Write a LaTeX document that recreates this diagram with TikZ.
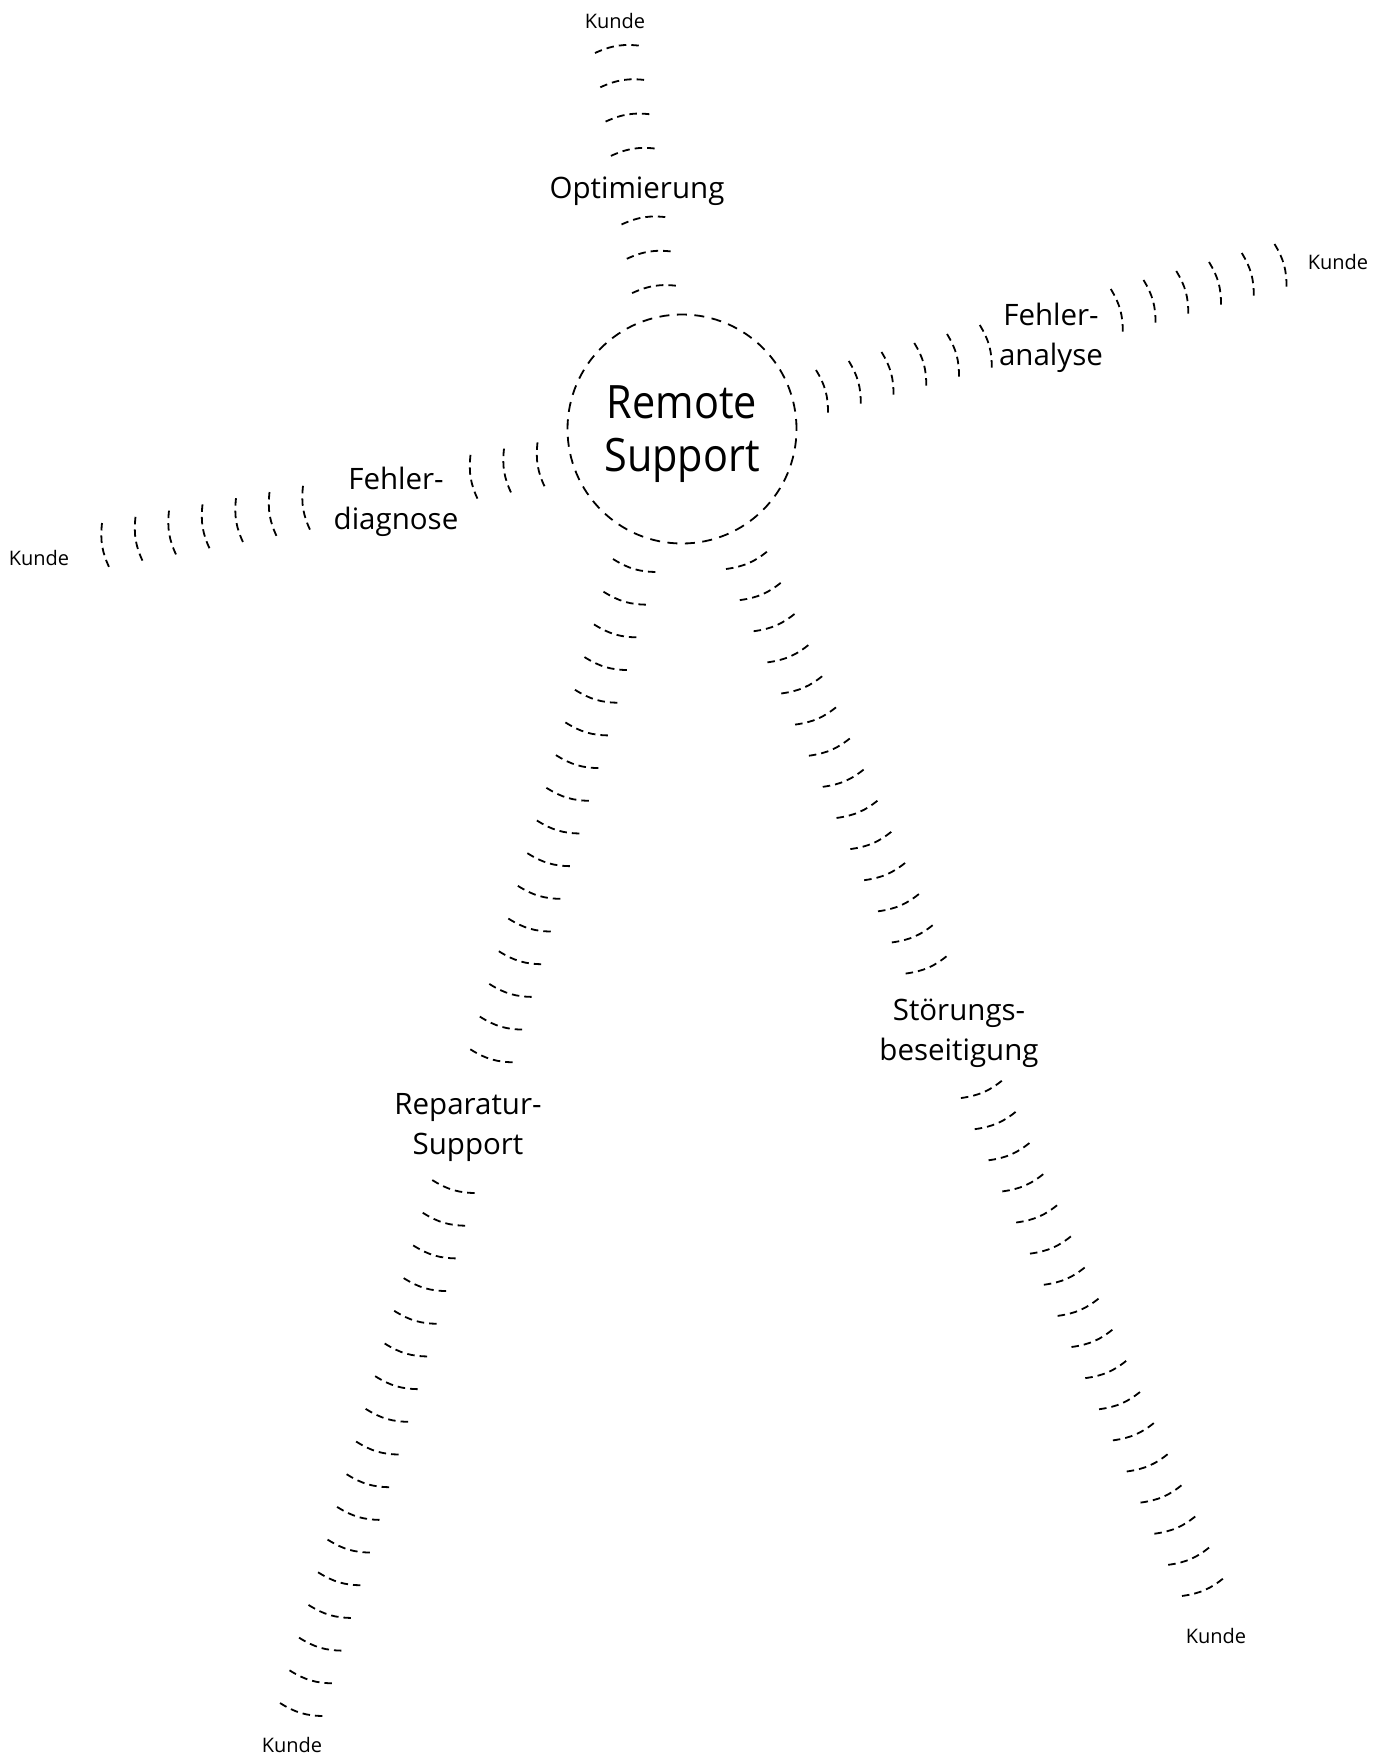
\documentclass[tikz,border=0pt]{standalone}
\usepackage{fontspec}
\setmainfont{Open Sans}
\begin{document}
\begin{tikzpicture}[x=1pt,y=-1pt]
\tikzset{
  wave/.style={line width=1.8pt, dash pattern=on 7.5pt off 5pt},
  ring/.style={draw, circle, line width=1.8pt, dash pattern=on 10pt off 7.5pt, minimum size=229pt, inner sep=0pt},
  kunde/.style={font=\fontsize{20}{24}\selectfont, inner sep=0pt},
  lbl/.style={font=\fontsize{29.5}{40}\selectfont, align=center, inner sep=0pt},
  big/.style={font=\fontsize{46}{53}\selectfont, align=center, inner sep=0pt, xscale=0.9, transform shape},
}
\useasboundingbox (0,0) rectangle (1387,1755);

% centre
\node[ring] (rs) at (682,429) {};
\node[big] (rst) at (682,434) {Remote\\Support};

% labels
\node[kunde] (k1) at (615,21) {Kunde};
\node[lbl] (opt) at (637,191) {Optimierung};
\node[lbl] (fa) at (1051,338) {Fehler-\\analyse};
\node[kunde] (k2) at (1338,262) {Kunde};
\node[lbl] (fd) at (396,502) {Fehler-\\diagnose};
\node[kunde] (k3) at (39,558) {Kunde};
\node[lbl] (rp) at (468,1127) {Reparatur-\\Support};
\node[lbl] (sb) at (959,1033) {Störungs-\\beseitigung};
\node[kunde] (k4) at (1216,1636) {Kunde};
\node[kunde] (k5) at (292,1745) {Kunde};

% top arm
\foreach \i in {0,1,2,3,5,6,7}
  \draw[wave] ({595+5.3*\i},{53+34.3*\i}) to[bend left=16] ++(47,-7);
% right arm
\foreach \i in {0,...,5}
  \draw[wave] ({816+32.75*\i},{370-9*\i}) to[bend left=16] ++(12,44);
\foreach \i in {9,...,14}
  \draw[wave] ({816+32.75*\i},{370-9*\i}) to[bend left=16] ++(12,44);
% left arm
\foreach \i in {0,...,6}
  \draw[wave] ({102+33.5*\i},{523-6.2*\i}) to[bend right=16] ++(8,46);
\foreach \i in {11,12,13}
  \draw[wave] ({102+33.5*\i},{523-6.2*\i}) to[bend right=16] ++(8,46);
% bottom-left arm
\foreach \i in {0,...,15}
  \draw[wave] ({613-9.514*\i},{559+32.686*\i}) to[bend right=16] ++(45,13);
\foreach \i in {19,...,35}
  \draw[wave] ({613-9.514*\i},{559+32.686*\i}) to[bend right=16] ++(45,13);
% bottom-right arm
\foreach \i in {0,...,13}
  \draw[wave] ({726+13.818*\i},{569+31.12*\i}) to[bend right=16] ++(43,-19);
\foreach \i in {17,...,33}
  \draw[wave] ({726+13.818*\i},{569+31.12*\i}) to[bend right=16] ++(43,-19);
\end{tikzpicture}
\end{document}
